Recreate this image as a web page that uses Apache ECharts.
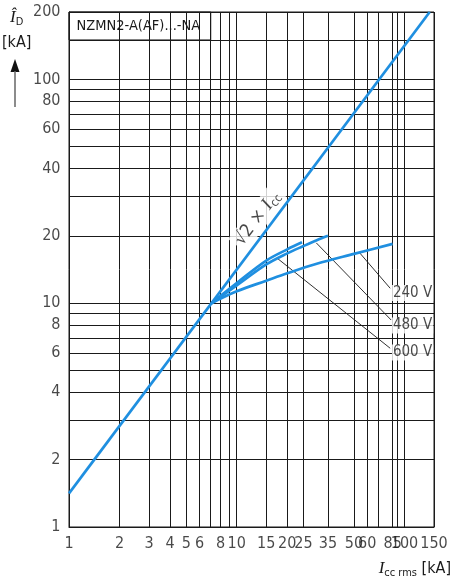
<!DOCTYPE html>
<html><head><meta charset="utf-8">
<script src="https://cdn.jsdelivr.net/npm/echarts@6/dist/echarts.min.js"></script>
<style>html,body{margin:0;padding:0;background:#fff}#c{width:455px;height:580px}</style>
</head><body><div id="c"></div>
<script>
// ---- data ----
const xGridValues = [1,2,3,4,5,6,7,8,9,10,15,20,25,35,50,60,70,85,90,100,150];
const yGridValues = [1,2,3,4,5,6,7,8,9,10,20,30,40,50,60,70,80,90,100,150,200];
const xTickLabels = [1,2,3,4,5,6,8,10,15,20,25,35,50,60,85,100,150];
const yTickLabels = [1,2,4,6,8,10,20,40,60,80,100,200];
const sqrt2Line = [[1,1.414],[141.4,200]];
const curve240 = [[7.07,10],[10,11.3],[15,12.6],[20,13.6],[30,15.0],[50,16.6],[85,18.4]];
const curve480 = [[7.07,10],[10,12.0],[15,14.9],[20,16.7],[25,18.0],[30,19.1],[35,20.0]];
const curve600 = [[7.07,10],[10,12.3],[15,15.5],[20,17.4],[24.5,18.7]];
const leader240 = [[54.0,16.8],[82.2,11.66]];
const leader480 = [[29.8,18.6],[83.3,8.41]];
const leader600 = [[17.4,15.9],[82.2,6.29]];
const voltageLabels = [
  {name:'240 V', value:[82.5,11.1]},
  {name:'480 V', value:[82.5,7.95]},
  {name:'600 V', value:[82.5,6.02]}
];
const sqrt2LabelPos = [13.3,24.0];
const titleBox = [[1,150],[7,200]];
const titleText = 'NZMN2-A(AF)...-NA';

const FONT = "'Liberation Sans Narrow','DejaVu Sans Condensed',sans-serif";
const SERIF = "'Liberation Serif','DejaVu Serif',serif";
const BLUE = '#1f8fe0';
const INK = '#1a1a1a';

const chart = echarts.init(document.getElementById('c'), null, {renderer:'canvas'});

const blueLine = (data) => ({
  type:'line', data, showSymbol:false, symbol:'none', smooth:0.35, z:5,
  lineStyle:{color:BLUE, width:2.7}, silent:true, clip:true
});
const leader = (data) => ({
  type:'line', data, showSymbol:false, symbol:'none', z:4,
  lineStyle:{color:INK, width:0.9}, silent:true
});

const option = {
  animation:false,
  textStyle:{fontFamily:FONT},
  grid:{left:69, top:12, right:21, bottom:53, show:true, borderColor:INK, borderWidth:1, backgroundColor:'#fff'},
  xAxis:{type:'log', logBase:10, min:1, max:150,
    axisLine:{show:true, lineStyle:{color:INK}}, axisTick:{show:false}, axisLabel:{show:false}, splitLine:{show:false}, minorSplitLine:{show:false}},
  yAxis:{type:'log', logBase:10, min:1, max:200,
    axisLine:{show:true, lineStyle:{color:INK}}, axisTick:{show:false}, axisLabel:{show:false}, splitLine:{show:false}, minorSplitLine:{show:false}},
  series:[
    { // grid lines
      type:'line', data:[], z:1, silent:true,
      markLine:{silent:true, symbol:['none','none'], animation:false,
        label:{show:false}, emphasis:{disabled:true},
        lineStyle:{color:INK, width:1, type:'solid'},
        data: xGridValues.map(v=>({xAxis:v})).concat(yGridValues.map(v=>({yAxis:v})))
      }
    },
    { // title box
      type:'line', data:[], z:2, silent:true,
      markArea:{silent:true,
        itemStyle:{color:'#fff', borderColor:INK, borderWidth:1},
        label:{show:true, position:'insideLeft', distance:8, color:INK, fontSize:14.5, fontFamily:FONT, formatter:titleText},
        data:[[{xAxis:titleBox[0][0], yAxis:titleBox[0][1]},{xAxis:titleBox[1][0], yAxis:titleBox[1][1]}]]
      }
    },
    blueLine(sqrt2Line),
    blueLine(curve240),
    blueLine(curve480),
    blueLine(curve600),
    leader(leader240), leader(leader480), leader(leader600),
    { // x tick labels
      type:'scatter', symbolSize:1, itemStyle:{color:'rgba(0,0,0,0)'}, silent:true, z:6, clip:false,
      data:xTickLabels.map(v=>[v,1]),
      label:{show:true, position:'bottom', distance:8, color:INK, fontSize:16, fontFamily:FONT, formatter:p=>String(p.value[0])}
    },
    { // y tick labels
      type:'scatter', symbolSize:1, itemStyle:{color:'rgba(0,0,0,0)'}, silent:true, z:6, clip:false,
      data:yTickLabels.map(v=>[1,v]),
      label:{show:true, position:'left', distance:8, color:INK, fontSize:16, fontFamily:FONT, formatter:p=>String(p.value[1])}
    },
    { // voltage labels
      type:'scatter', symbolSize:1, itemStyle:{color:'rgba(0,0,0,0)'}, silent:true, z:7,
      data:voltageLabels,
      label:{show:true, position:'right', distance:1, color:INK, fontSize:15, fontFamily:FONT,
        backgroundColor:'#fff', padding:[1,1,0,1], formatter:'{b}'}
    },
    { // sqrt2 label
      type:'scatter', symbolSize:1, itemStyle:{color:'rgba(0,0,0,0)'}, silent:true, z:7,
      data:[sqrt2LabelPos],
      label:{show:true, position:'inside', rotate:53, color:INK, fontSize:18, fontFamily:FONT,
        backgroundColor:'#fff', padding:[0,3],
        formatter:'√2 × {i|I}{s|cc}',
        rich:{i:{fontFamily:SERIF, fontStyle:'italic', fontSize:19, color:INK, lineHeight:22},
              s:{fontFamily:FONT, fontSize:12, color:INK, verticalAlign:'bottom', lineHeight:13}}
      }
    }
  ],
  graphic:[
    {type:'text', left:10, top:9, style:{text:'{i|Î}{s|D}', rich:{
      i:{fontFamily:SERIF, fontStyle:'italic', fontSize:17, fill:INK, lineHeight:20},
      s:{fontFamily:FONT, fontSize:11, fill:INK, verticalAlign:'bottom', lineHeight:12}}}},
    {type:'text', left:2, top:35, style:{text:'[kA]', fontFamily:FONT, fontSize:16, fill:INK}},
    {type:'polygon', shape:{points:[[15,59],[10.5,72],[19.5,72]]}, style:{fill:'#111'}},
    {type:'line', shape:{x1:15, y1:71, x2:15, y2:107}, style:{stroke:'#666', lineWidth:1.5}},
    {type:'text', right:4, top:560, style:{text:'{i|I}{s|cc rms} [kA]', fontFamily:FONT, fontSize:16, fill:INK, rich:{
      i:{fontFamily:SERIF, fontStyle:'italic', fontSize:17, fill:INK, lineHeight:20},
      s:{fontFamily:FONT, fontSize:11, fill:INK, verticalAlign:'bottom', lineHeight:12}}}}
  ]
};
chart.setOption(option);
</script>
</body></html>
